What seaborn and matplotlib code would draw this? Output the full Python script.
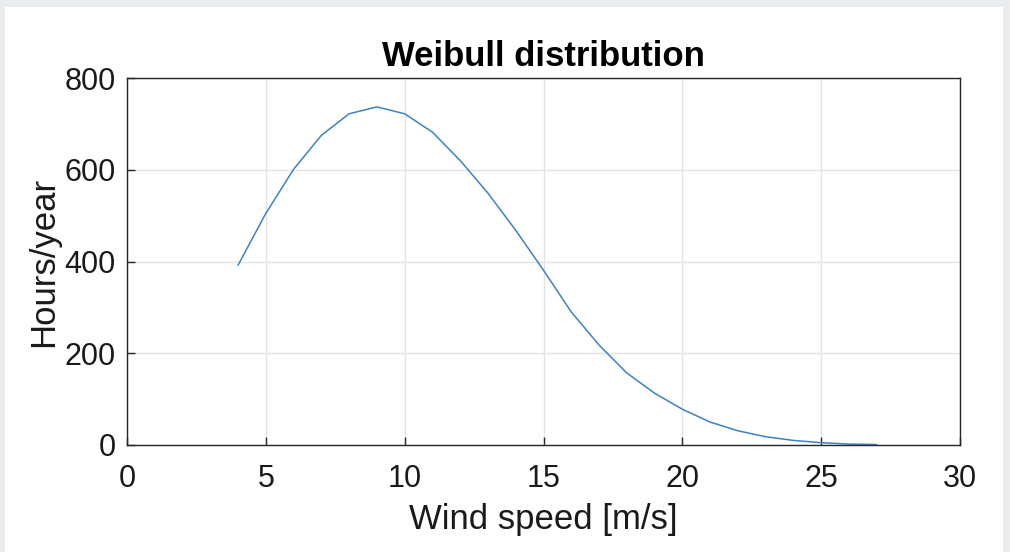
import numpy as np
import pandas as pd
import matplotlib.pyplot as plt
import seaborn as sns
from matplotlib.patches import Rectangle

# wind speed bins [m/s] and hours per year
wind_speed = [4, 5, 6, 7, 8, 9, 10, 11, 12, 13, 14, 15, 16, 17, 18, 19, 20, 21, 22, 23, 24, 25, 26, 27]
hours_year = [392, 505, 601, 675, 722, 737, 722, 682, 620, 549, 468, 381, 290, 218, 157, 113, 78, 50, 31, 18, 10, 5, 2, 1]
x_ticks = [0, 5, 10, 15, 20, 25, 30]
y_ticks = [0, 200, 400, 600, 800]

df = pd.DataFrame({'Wind speed [m/s]': wind_speed, 'Hours/year': hours_year})

sns.set_theme(style='white')
plt.rcParams['font.family'] = ['Liberation Sans', 'DejaVu Sans']

fig = plt.figure(figsize=(10.1, 5.52), dpi=100)
fig.patch.set_facecolor('#e9edf0')
# white panel behind the chart
fig.patches.append(Rectangle((5 / 1010, 0), 998 / 1010, 545 / 552, transform=fig.transFigure,
                             facecolor='white', edgecolor='none', zorder=-10))

ax = fig.add_axes([127 / 1010, 107 / 552, 833 / 1010, 367 / 552])
sns.lineplot(data=df, x='Wind speed [m/s]', y='Hours/year', color='#3d82c4', linewidth=1.1, ax=ax)

ax.set_xlim(0, 30)
ax.set_ylim(0, 800)
ax.set_xticks(x_ticks)
ax.set_yticks(y_ticks)
ax.grid(True, color='#e3e3e3', linewidth=1)
ax.set_axisbelow(True)
for s in ax.spines.values():
    s.set_color('#262626')
    s.set_linewidth(1)
ax.tick_params(direction='in', length=6, width=1, color='#262626', labelsize=22, labelcolor='#1a1a1a',
               top=False, right=False, bottom=True, left=True)
ax.tick_params(axis='x', pad=14)
ax.tick_params(axis='y', pad=8)
ax.set_xlabel('Wind speed [m/s]', fontsize=25, color='#1a1a1a', labelpad=6)
ax.set_ylabel('Hours/year', fontsize=25, color='#1a1a1a', labelpad=3)
ax.set_title('Weibull distribution', fontsize=25, fontweight='bold', color='black', pad=9)

fig.savefig('out.png', dpi=100, facecolor=fig.get_facecolor())
